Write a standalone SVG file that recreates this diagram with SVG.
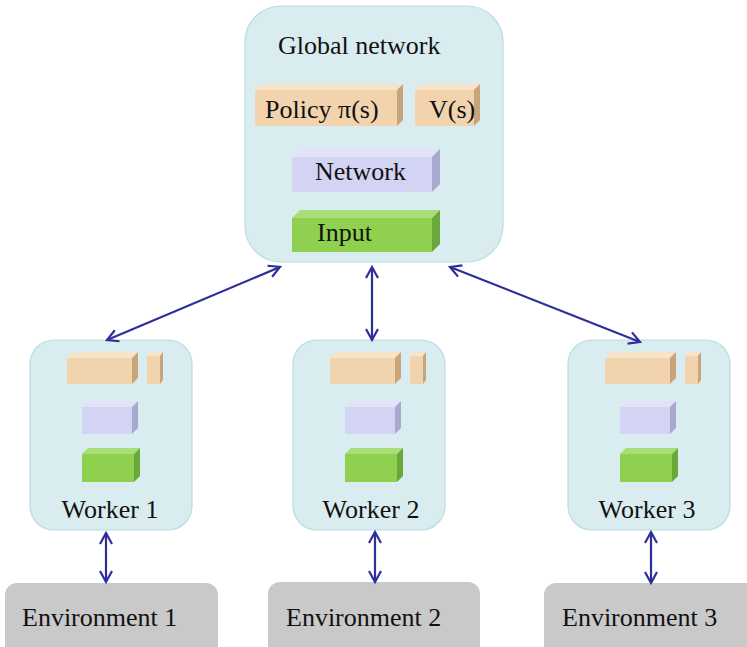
<svg xmlns="http://www.w3.org/2000/svg" width="747" height="647" viewBox="0 0 747 647">
<style>
.panel{fill:#d9edf0;stroke:#b9dde3;stroke-width:1.2}
.env{fill:#c9c9c9}
.lbl{font-family:"Liberation Serif","Times New Roman",serif;font-size:26px;fill:#111}
.envlbl{font-family:"Liberation Serif","Times New Roman",serif;font-size:26px;fill:#111}
.tanF{fill:#f1d3ad}.tanT{fill:#f7e3c8}.tanS{fill:#c8a47b}
.purF{fill:#d3d3f3}.purT{fill:#e3e3f8}.purS{fill:#a9a9d0}
.grnF{fill:#8fd14f}.grnT{fill:#a9dd75}.grnS{fill:#6aa83b}
.conn{stroke:#2e2e9a;stroke-width:2.2;fill:none;marker-start:url(#ah);marker-end:url(#ah)}
</style>
<defs>
<marker id="ah" markerUnits="userSpaceOnUse" markerWidth="16" markerHeight="16" refX="13" refY="8" orient="auto-start-reverse">
<path d="M2,2 L13,8 L2,14" fill="none" stroke="#2e2e9a" stroke-width="2.2"/>
</marker>
<g id="workerInner">
<rect class="tanF" x="67" y="358" width="65" height="26"/>
<polygon class="tanT" points="67,358 73,352 138,352 132,358"/>
<polygon class="tanS" points="132,358 138,352 138,378 132,384"/>
<rect class="tanF" x="147" y="356" width="13" height="28"/>
<polygon class="tanT" points="147,356 150,352 163,352 160,356"/>
<polygon class="tanS" points="160,356 163,352 163,380 160,384"/>
<rect class="purF" x="82" y="407" width="50" height="27"/>
<polygon class="purT" points="82,407 88,401 138,401 132,407"/>
<polygon class="purS" points="132,407 138,401 138,428 132,434"/>
<rect class="grnF" x="82" y="454" width="52" height="28"/>
<polygon class="grnT" points="82,454 88,448 140,448 134,454"/>
<polygon class="grnS" points="134,454 140,448 140,476 134,482"/>
</g>
</defs>

<g id="global">
<rect class="panel" x="245" y="6" width="258" height="256" rx="36" ry="36"/>
<text class="lbl" x="278" y="54">Global network</text>
<g id="policy">
<rect class="tanF" x="255" y="90" width="142" height="36"/>
<polygon class="tanT" points="255,90 261,84 403,84 397,90"/>
<polygon class="tanS" points="397,90 403,84 403,120 397,126"/>
<text class="lbl" x="265" y="118">Policy<tspan x="338">π(s)</tspan></text>
</g>
<g id="value">
<rect class="tanF" x="415" y="90" width="59" height="36"/>
<polygon class="tanT" points="415,90 421,84 480,84 474,90"/>
<polygon class="tanS" points="474,90 480,84 480,120 474,126"/>
<text class="lbl" x="429" y="118">V(s)</text>
</g>
<g id="network">
<rect class="purF" x="292" y="157" width="140" height="35"/>
<polygon class="purT" points="292,157 300,149 440,149 432,157"/>
<polygon class="purS" points="432,157 440,149 440,184 432,192"/>
<text class="lbl" x="315" y="180">Network</text>
</g>
<g id="input">
<rect class="grnF" x="292" y="218" width="140" height="34"/>
<polygon class="grnT" points="292,218 300,210 440,210 432,218"/>
<polygon class="grnS" points="432,218 440,210 440,244 432,252"/>
<text class="lbl" x="317" y="241">Input</text>
</g>
</g>

<g id="worker1">
<rect class="panel" x="30" y="340" width="162" height="190" rx="24" ry="24"/>
<use href="#workerInner"/>
<text class="lbl" x="110" y="518" text-anchor="middle">Worker 1</text>
</g>
<g id="worker2">
<rect class="panel" x="293" y="340" width="152" height="190" rx="24" ry="24"/>
<use href="#workerInner" transform="translate(263,0)"/>
<text class="lbl" x="371" y="518" text-anchor="middle">Worker 2</text>
</g>
<g id="worker3">
<rect class="panel" x="568" y="340" width="162" height="190" rx="24" ry="24"/>
<use href="#workerInner" transform="translate(538,0)"/>
<text class="lbl" x="647" y="518" text-anchor="middle">Worker 3</text>
</g>

<g id="env1">
<rect class="env" x="5" y="583" width="213" height="80" rx="12" ry="12"/>
<text class="envlbl" x="22" y="626">Environment 1</text>
</g>
<g id="env2">
<rect class="env" x="268" y="582" width="212" height="80" rx="12" ry="12"/>
<text class="envlbl" x="286" y="626">Environment 2</text>
</g>
<g id="env3">
<rect class="env" x="544" y="583" width="215" height="80" rx="12" ry="12"/>
<text class="envlbl" x="562" y="626">Environment 3</text>
</g>

<g id="connectors">
<line class="conn" x1="280" y1="267" x2="107" y2="340"/>
<line class="conn" x1="372" y1="267" x2="372" y2="340"/>
<line class="conn" x1="450" y1="267" x2="640" y2="342"/>
<line class="conn" x1="106" y1="533" x2="106" y2="582"/>
<line class="conn" x1="375" y1="532" x2="375" y2="582"/>
<line class="conn" x1="651" y1="532" x2="651" y2="583"/>
</g>
</svg>
